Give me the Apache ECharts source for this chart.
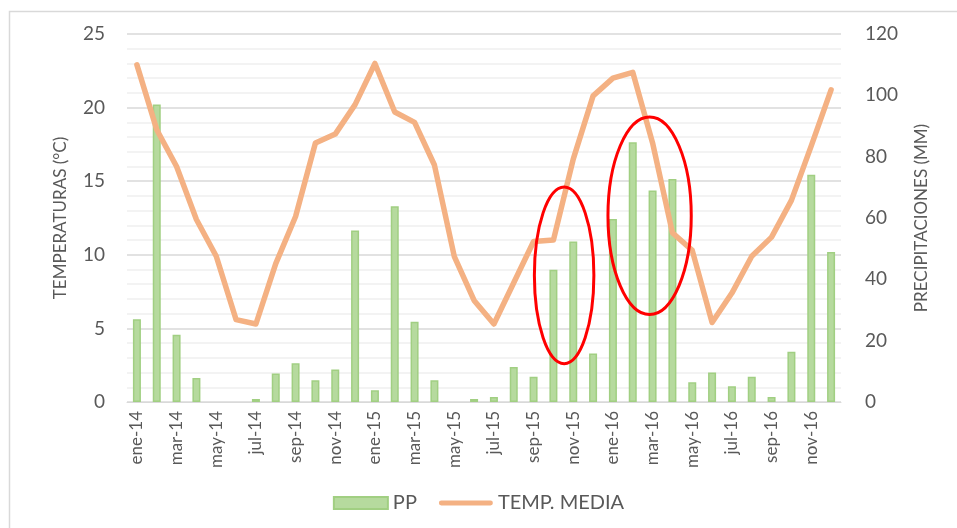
<!DOCTYPE html>
<html>
<head>
<meta charset="utf-8">
<script src="https://cdn.jsdelivr.net/npm/echarts@6/dist/echarts.min.js"></script>
<style>
  html, body { margin: 0; padding: 0; background: #fff; }
  #chart { width: 957px; height: 528px; }
</style>
</head>
<body>
<div id="chart"></div>
<script>
var months = ['ene-14', 'feb-14', 'mar-14', 'abr-14', 'may-14', 'jun-14', 'jul-14', 'ago-14', 'sep-14', 'oct-14', 'nov-14', 'dic-14',
              'ene-15', 'feb-15', 'mar-15', 'abr-15', 'may-15', 'jun-15', 'jul-15', 'ago-15', 'sep-15', 'oct-15', 'nov-15', 'dic-15',
              'ene-16', 'feb-16', 'mar-16', 'abr-16', 'may-16', 'jun-16', 'jul-16', 'ago-16', 'sep-16', 'oct-16', 'nov-16', 'dic-16'];

// precipitacion mensual (mm), eje derecho
var pp = [27.0, 97.0, 21.9, 7.8, 0, 0, 1.0, 9.3, 12.6, 7.1, 10.6, 55.9,
          3.8, 63.8, 26.2, 7.1, 0, 1.0, 1.6, 11.4, 8.2, 43.1, 52.3, 15.8,
          59.7, 84.7, 69.0, 72.7, 6.4, 9.6, 5.1, 8.2, 1.6, 16.4, 74.1, 48.9];

// temperatura media (°C), eje izquierdo
var tempMedia = [22.9, 18.5, 16.0, 12.4, 9.9, 5.6, 5.3, 9.4, 12.6, 17.6, 18.2, 20.2,
                 23.0, 19.7, 19.0, 16.1, 9.9, 6.9, 5.3, 8.1, 10.9, 11.0, 16.5, 20.8,
                 22.0, 22.4, 17.6, 11.5, 10.3, 5.4, 7.4, 9.9, 11.2, 13.7, 17.4, 21.2];

// zonas marcadas en rojo: [indice de mes (centro), mm (centro), semiancho en meses, semialto en mm]
var marcas = [[21.54, 41.3, 1.5, 28.8],
              [25.85, 60.7, 2.1, 32.2]];

var font = 'Lato, "Noto Sans", sans-serif';
var gray = '#595959';

// icono de linea gruesa para la leyenda (con margen para no deformarse)
var lineIcon = 'path://M0,0L56,0L56,0.01Z M2.5,3.5L53.5,3.5A2.5,2.5,0,0,1,53.5,8.5L2.5,8.5A2.5,2.5,0,0,1,2.5,3.5Z M0,12L56,12L56,11.99Z';

var chart = echarts.init(document.getElementById('chart'));

var option = {
    animation: false,
    textStyle: { fontFamily: font },
    grid: { left: 127, right: 116, top: 34, bottom: 126 },
    legend: {
        bottom: 10,
        left: 'center',
        itemGap: 22,
        itemWidth: 54,
        itemHeight: 12,
        textStyle: { color: gray, fontSize: 20, fontFamily: font },
        data: [
            { name: 'PP', icon: 'rect' },
            { name: 'TEMP. MEDIA', icon: lineIcon }
        ]
    },
    xAxis: {
        type: 'category',
        data: months,
        boundaryGap: true,
        axisLine: { lineStyle: { color: '#d9d9d9', width: 1 } },
        axisTick: { interval: 1, length: 5, lineStyle: { color: '#d9d9d9' } },
        axisLabel: { interval: 1, rotate: 90, color: gray, fontSize: 17, margin: 9 }
    },
    yAxis: [{
        type: 'value',
        min: 0, max: 25, interval: 5,
        name: 'TEMPERATURAS (°C)',
        nameLocation: 'middle',
        nameGap: 58,
        nameTextStyle: { color: gray, fontSize: 17 },
        axisLabel: { color: gray, fontSize: 19, margin: 22 },
        axisLine: { show: false },
        axisTick: { show: false },
        splitLine: { lineStyle: { color: '#d9d9d9', width: 1.5 } },
        minorTick: { show: false, splitNumber: 5 },
        minorSplitLine: { show: true, lineStyle: { color: '#f0f0f0', width: 1.5 } }
    }, {
        type: 'value',
        min: 0, max: 120, interval: 20,
        name: 'PRECIPITACIONES (MM)',
        nameLocation: 'middle',
        nameGap: 72,
        nameRotate: 90,
        nameTextStyle: { color: gray, fontSize: 17 },
        axisLabel: { color: gray, fontSize: 19, margin: 24 },
        axisLine: { show: false },
        axisTick: { show: false },
        splitLine: { show: false }
    }],
    series: [{
        name: 'PP',
        type: 'bar',
        yAxisIndex: 1,
        // los meses sin lluvia no dibujan barra
        data: pp.map(function (v) { return v === 0 ? '-' : v; }),
        barWidth: 8,
        itemStyle: { color: '#b6da9e', borderColor: '#a1cf82', borderWidth: 1.5 }
    }, {
        name: 'TEMP. MEDIA',
        type: 'line',
        yAxisIndex: 0,
        data: tempMedia,
        symbol: 'none',
        lineStyle: { color: '#f4b183', width: 5.5, cap: 'round', join: 'round' },
        itemStyle: { color: '#f4b183' }
    }]
};

chart.setOption(option);

function toPx(idx, mm) {
    var i = Math.floor(idx), f = idx - i;
    var a = chart.convertToPixel({ xAxisIndex: 0, yAxisIndex: 1 }, [i, mm]);
    var b = chart.convertToPixel({ xAxisIndex: 0, yAxisIndex: 1 }, [i + 1, mm]);
    return [a[0] + f * (b[0] - a[0]), a[1]];
}

var graphics = [{
    type: 'rect',
    silent: true,
    shape: { x: 9.5, y: 11.5, width: 1000, height: 600 },
    style: { fill: 'none', stroke: '#d9d9d9', lineWidth: 1.5 }
}];

marcas.forEach(function (m) {
    var c = toPx(m[0], m[1]);
    var right = toPx(m[0] + m[2], m[1]);
    var top = toPx(m[0], m[1] + m[3]);
    graphics.push({
        type: 'ellipse',
        silent: true,
        z: 100,
        shape: { cx: c[0], cy: c[1], rx: right[0] - c[0], ry: c[1] - top[1] },
        style: { fill: 'none', stroke: '#ff0000', lineWidth: 3 }
    });
});

chart.setOption({ graphic: graphics });
</script>
</body>
</html>
